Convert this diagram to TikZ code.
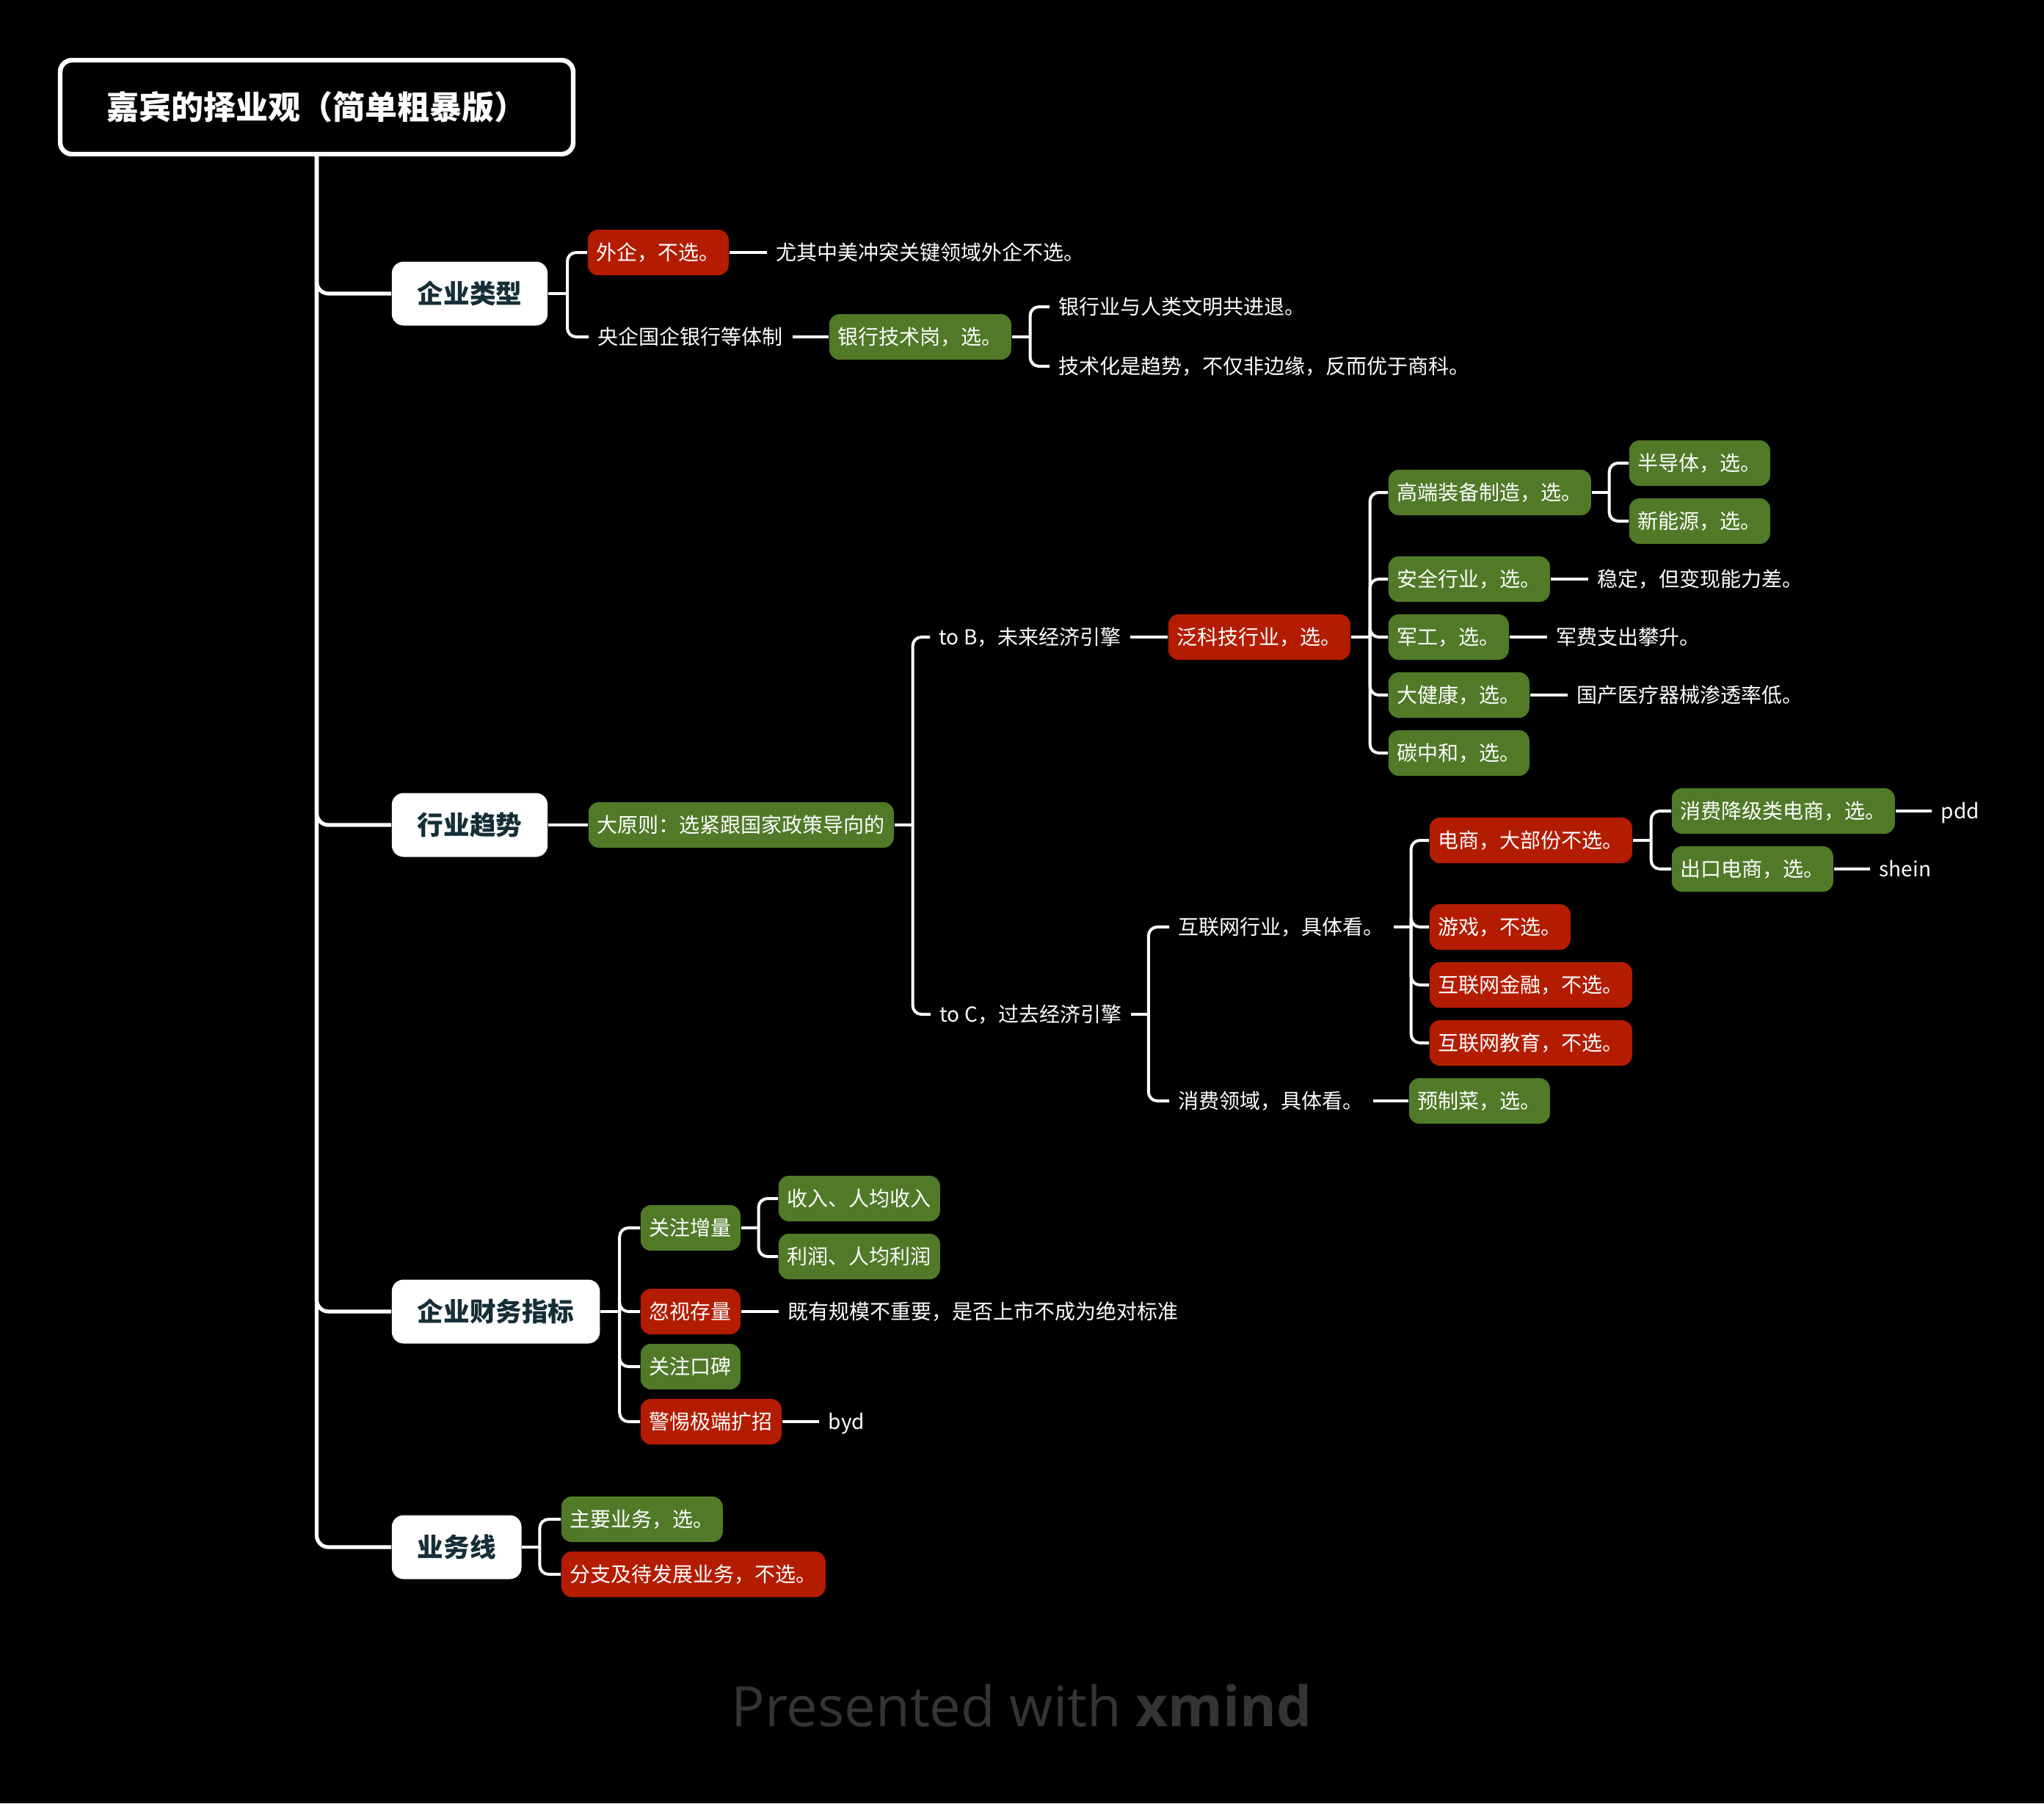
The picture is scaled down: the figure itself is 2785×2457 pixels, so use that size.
\documentclass[tikz,border=0pt]{standalone}
\usepackage{fontspec}
\setmainfont{Noto Sans CJK SC}
\newfontfamily\footfont{Open Sans}
\usetikzlibrary{calc}
\definecolor{xred}{RGB}{180,28,0}
\definecolor{xgreen}{RGB}{80,122,40}
\definecolor{lonetext}{RGB}{22,46,56}
\definecolor{footgray}{RGB}{52,52,52}
\begin{document}
\begin{tikzpicture}[x=0.25pt,y=-0.25pt,
  base/.style={font=\fontsize{7pt}{8.4pt}\selectfont, text=white, inner xsep=3pt, inner ysep=0pt, text height=6.16pt, text depth=0.84pt, anchor=west, minimum height=15.5pt},
  gbox/.style={base, fill=xgreen, rounded corners=3.5pt},
  rbox/.style={base, fill=xred, rounded corners=3.5pt},
  plain/.style={base},
  lone/.style={anchor=west, fill=white, text=lonetext, font=\fontsize{8.9pt}{10pt}\selectfont\bfseries, rounded corners=4pt, minimum height=21.75pt, inner xsep=8.75pt, inner ysep=0pt, text height=7.83pt, text depth=1.07pt},
  trunk/.style={draw=white, line width=1.3pt, rounded corners=4pt},
  conn/.style={draw=white, line width=1pt, rounded corners=3pt},
]
\fill[black] (0,0) rectangle (2785,2457);
\useasboundingbox (0,0) rectangle (2785,2457);

% root
\node[draw=white, line width=1.6pt, fill=black, rounded corners=4pt, minimum width=174.75pt, minimum height=32pt, text=white, inner sep=0pt, text height=9.68pt, text depth=1.32pt, font=\fontsize{11pt}{13pt}\selectfont\bfseries] (root) at (431.5,146) {嘉宾的择业观（简单粗暴版）};

% level 1
\node[lone] (qy) at (533,400) {企业类型};
\node[lone] (hy) at (533,1124) {行业趋势};
\node[lone] (cw) at (533,1787) {企业财务指标};
\node[lone] (yw) at (533,2108) {业务线};
\draw[trunk] (root.south) |- (qy.west);
\draw[trunk] (root.south) |- (hy.west);
\draw[trunk] (root.south) |- (cw.west);
\draw[trunk] (root.south) |- (yw.west);

% 企业类型
\node[rbox] (wq) at (800,344) {外企，不选。};
\node[plain] (wqt) at (1045,344) {尤其中美冲突关键领域外企不选。};
\node[plain] (yq) at (802,459) {央企国企银行等体制};
\node[gbox] (yh) at (1129,459) {银行技术岗，选。};
\node[plain] (yha) at (1430,418) {银行业与人类文明共进退。};
\node[plain] (yhb) at (1430,499) {技术化是趋势，不仅非边缘，反而优于商科。};
\coordinate (jqy) at ([xshift=6.5pt]qy.east);
\draw[conn] (qy.east) -- (jqy);
\draw[conn] (jqy) |- (wq.west);
\draw[conn] (jqy) |- (yq.west);
\draw[conn] (wq.east) -- (wqt.west);
\draw[conn] (yq.east) -- (yh.west);
\coordinate (jyh) at ([xshift=6.25pt]yh.east);
\draw[conn] (yh.east) -- (jyh);
\draw[conn] (jyh) |- (yha.west);
\draw[conn] (jyh) |- (yhb.west);

% 行业趋势
\node[gbox] (dy) at (801,1124) {大原则：选紧跟国家政策导向的};
\draw[conn] (hy.east) -- (dy.west);
\coordinate (jdy) at ([xshift=6.25pt]dy.east);
\draw[conn] (dy.east) -- (jdy);
\node[plain] (tob) at (1267,868) {to B，未来经济引擎};
\node[plain] (toc) at (1268,1382) {to C，过去经济引擎};
\draw[conn] (jdy) |- (tob.west);
\draw[conn] (jdy) |- (toc.west);

\node[rbox] (fk) at (1591,868) {泛科技行业，选。};
\draw[conn] (tob.east) -- (fk.west);
\coordinate (jfk) at ([xshift=6.5pt]fk.east);
\draw[conn] (fk.east) -- (jfk);
\node[gbox] (gd) at (1891,671) {高端装备制造，选。};
\node[gbox] (aq) at (1891,789) {安全行业，选。};
\node[gbox] (jg) at (1891,868) {军工，选。};
\node[gbox] (dj) at (1891,947) {大健康，选。};
\node[gbox] (tz) at (1891,1026) {碳中和，选。};
\draw[conn] (jfk) |- (gd.west);
\draw[conn] (jfk) |- (aq.west);
\draw[conn] (jfk) |- (jg.west);
\draw[conn] (jfk) |- (dj.west);
\draw[conn] (jfk) |- (tz.west);
\coordinate (jgd) at ([xshift=6pt]gd.east);
\draw[conn] (gd.east) -- (jgd);
\node[gbox] (bd) at (2219,631) {半导体，选。};
\node[gbox] (xn) at (2219,710) {新能源，选。};
\draw[conn] (jgd) |- (bd.west);
\draw[conn] (jgd) |- (xn.west);
\node[plain] (aqt) at (2164,789) {稳定，但变现能力差。};
\draw[conn] (aq.east) -- (aqt.west);
\node[plain] (jgt) at (2108,868) {军费支出攀升。};
\draw[conn] (jg.east) -- (jgt.west);
\node[plain] (djt) at (2136,947) {国产医疗器械渗透率低。};
\draw[conn] (dj.east) -- (djt.west);

\coordinate (jtoc) at ([xshift=6pt]toc.east);
\draw[conn] (toc.east) -- (jtoc);
\node[plain] (hl) at (1593,1263) {互联网行业，具体看。};
\node[plain] (xf) at (1593,1500) {消费领域，具体看。};
\draw[conn] (jtoc) |- (hl.west);
\draw[conn] (jtoc) |- (xf.west);
\coordinate (jhl) at ([xshift=6pt]hl.east);
\draw[conn] (hl.east) -- (jhl);
\node[rbox] (ds) at (1947,1145) {电商，大部份不选。};
\node[rbox] (yx) at (1947,1263) {游戏，不选。};
\node[rbox] (jr) at (1947,1342) {互联网金融，不选。};
\node[rbox] (jy) at (1947,1421) {互联网教育，不选。};
\draw[conn] (jhl) |- (ds.west);
\draw[conn] (jhl) |- (yx.west);
\draw[conn] (jhl) |- (jr.west);
\draw[conn] (jhl) |- (jy.west);
\coordinate (jds) at ([xshift=6.25pt]ds.east);
\draw[conn] (ds.east) -- (jds);
\node[gbox] (xj) at (2277,1105) {消费降级类电商，选。};
\node[gbox] (ck) at (2277,1184) {出口电商，选。};
\draw[conn] (jds) |- (xj.west);
\draw[conn] (jds) |- (ck.west);
\node[plain] (pdd) at (2632,1105) {pdd};
\node[plain] (shein) at (2548,1184) {shein};
\draw[conn] (xj.east) -- (pdd.west);
\draw[conn] (ck.east) -- (shein.west);
\node[gbox] (yz) at (1919,1500) {预制菜，选。};
\draw[conn] (xf.east) -- (yz.west);

% 企业财务指标
\coordinate (jcw) at ([xshift=6.5pt]cw.east);
\draw[conn] (cw.east) -- (jcw);
\node[gbox] (zl) at (872,1673) {关注增量};
\node[rbox] (hs) at (872,1787) {忽视存量};
\node[gbox] (kb) at (872,1862) {关注口碑};
\node[rbox] (kz) at (872,1937) {警惕极端扩招};
\draw[conn] (jcw) |- (zl.west);
\draw[conn] (jcw) |- (hs.west);
\draw[conn] (jcw) |- (kb.west);
\draw[conn] (jcw) |- (kz.west);
\coordinate (jzl) at ([xshift=6pt]zl.east);
\draw[conn] (zl.east) -- (jzl);
\node[gbox] (sr) at (1060,1633) {收入、人均收入};
\node[gbox] (lr) at (1060,1712) {利润、人均利润};
\draw[conn] (jzl) |- (sr.west);
\draw[conn] (jzl) |- (lr.west);
\node[plain] (hst) at (1061,1787) {既有规模不重要，是否上市不成为绝对标准};
\draw[conn] (hs.east) -- (hst.west);
\node[plain] (byd) at (1116,1937) {byd};
\draw[conn] (kz.east) -- (byd.west);

% 业务线
\coordinate (jyw) at ([xshift=6pt]yw.east);
\draw[conn] (yw.east) -- (jyw);
\node[gbox] (zy) at (764,2070) {主要业务，选。};
\node[rbox] (fz) at (764,2145) {分支及待发展业务，不选。};
\draw[conn] (jyw) |- (zy.west);
\draw[conn] (jyw) |- (fz.west);

% footer
\node[font=\footfont\fontsize{19pt}{22pt}\selectfont, text=footgray, anchor=base, inner sep=0pt] (foot) at (1392,2352) {Presented with \textbf{xmind}};
\end{tikzpicture}
\end{document}
